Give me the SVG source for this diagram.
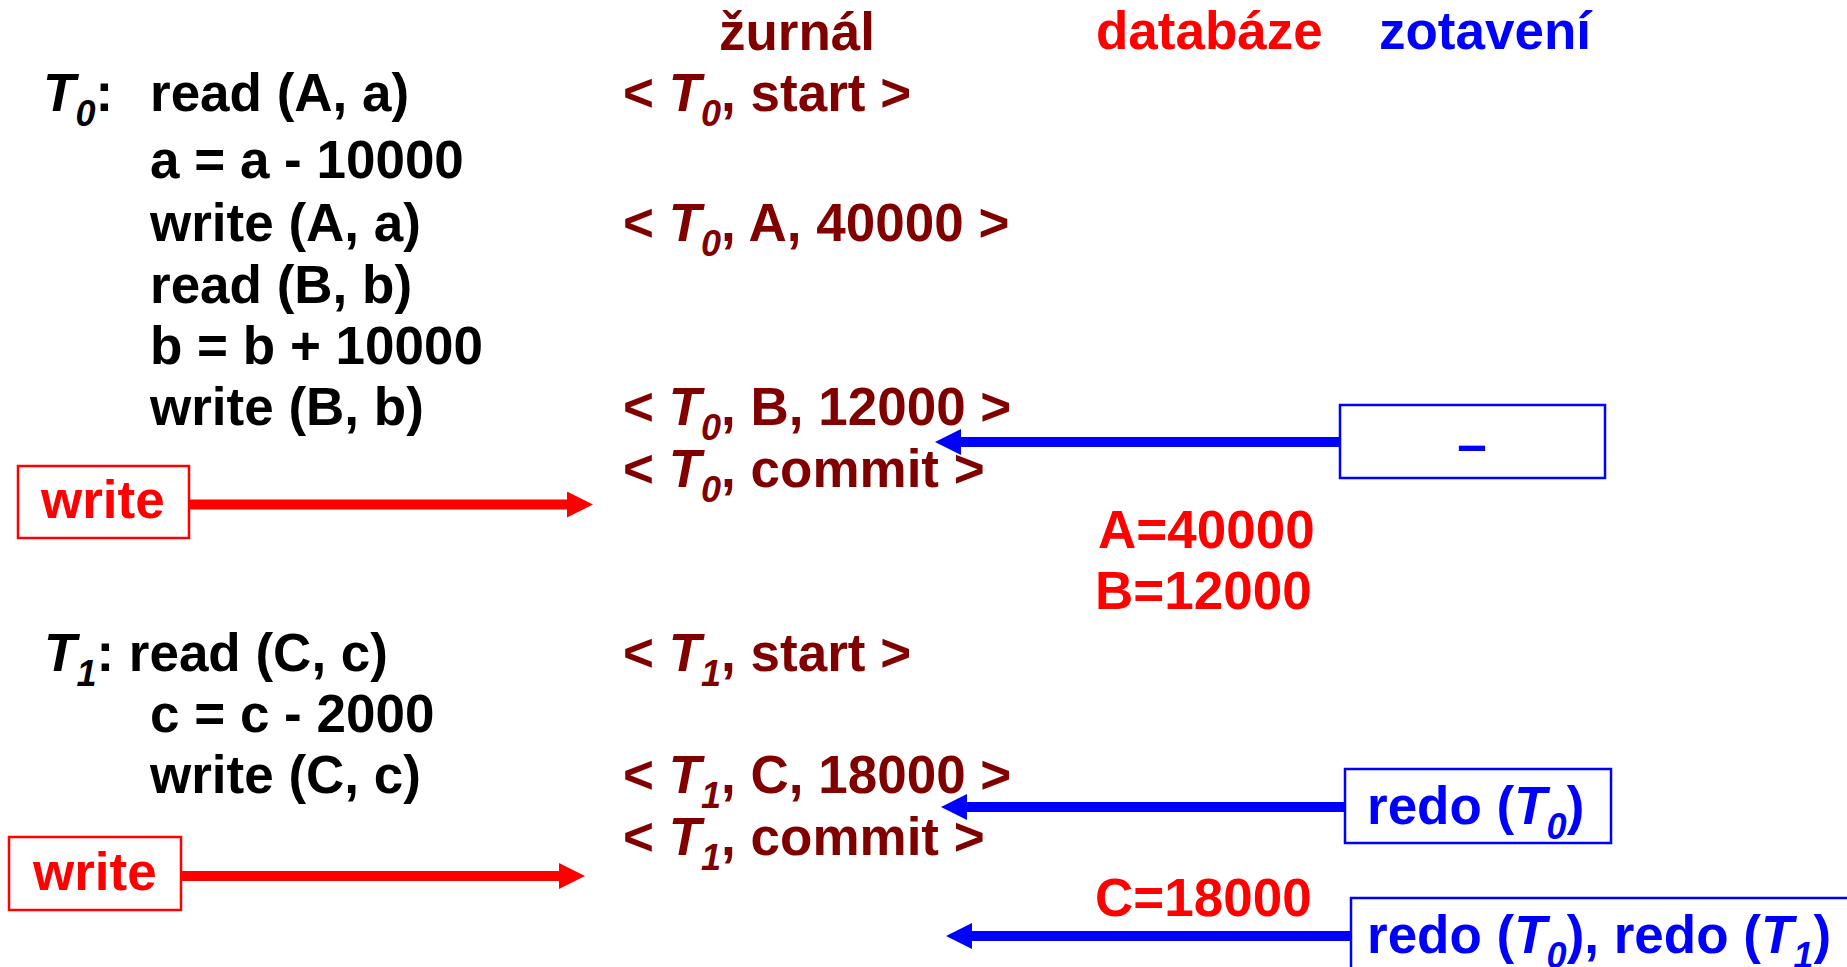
<svg xmlns="http://www.w3.org/2000/svg" width="1847" height="967" viewBox="0 0 1847 967">
<style>
text{font-family:"Liberation Sans",Arial,sans-serif;font-weight:bold;font-size:53px}
.k{fill:#000}
.m{fill:#800000}
.r{fill:#FF0000}
.b{fill:#0000FF}
.i{font-style:italic}
.s{font-style:italic;font-size:36px}
.rb{fill:#fff;stroke:#FF0000;stroke-width:2.5}
.bb{fill:#fff;stroke:#0000FF;stroke-width:2.5}
.rl{stroke:#FF0000;stroke-width:10;fill:none}
.bl{stroke:#0000FF;stroke-width:10;fill:none}
</style>
<defs>
<marker id="ar" viewBox="0 0 26 26" refX="0" refY="13" markerWidth="26" markerHeight="26" markerUnits="userSpaceOnUse" orient="auto"><path d="M0,0 L26,13 L0,26 z" fill="#FF0000"/></marker>
<marker id="ab" viewBox="0 0 26 26" refX="0" refY="13" markerWidth="26" markerHeight="26" markerUnits="userSpaceOnUse" orient="auto"><path d="M0,0 L26,13 L0,26 z" fill="#0000FF"/></marker>
</defs>
<rect width="1847" height="967" fill="#fff"/>
<g id="headers">
<text class="m" x="719" y="50">žurnál</text>
<text class="r" x="1096" y="49">databáze</text>
<text class="b" x="1379" y="49">zotavení</text>
</g>
<g id="t0-program">
<text class="k" x="43" y="111"><tspan class="i">T</tspan><tspan class="s" dy="15">0</tspan><tspan dy="-15">:</tspan></text>
<text class="k" x="150" y="111">read (A, a)</text>
<text class="k" x="150" y="178">a = a - 10000</text>
<text class="k" x="150" y="241">write (A, a)</text>
<text class="k" x="150" y="303">read (B, b)</text>
<text class="k" x="150" y="364">b = b + 10000</text>
<text class="k" x="150" y="425">write (B, b)</text>
</g>
<g id="t0-log">
<text class="m" x="623" y="111">&lt; <tspan class="i">T</tspan><tspan class="s" dy="15">0</tspan><tspan dy="-15">, start &gt;</tspan></text>
<text class="m" x="623" y="241">&lt; <tspan class="i">T</tspan><tspan class="s" dy="15">0</tspan><tspan dy="-15">, A, 40000 &gt;</tspan></text>
<text class="m" x="623" y="425">&lt; <tspan class="i">T</tspan><tspan class="s" dy="15">0</tspan><tspan dy="-15">, B, 12000 &gt;</tspan></text>
<text class="m" x="623" y="487">&lt; <tspan class="i">T</tspan><tspan class="s" dy="15">0</tspan><tspan dy="-15">, commit &gt;</tspan></text>
</g>
<g id="t1-program">
<text class="k" x="44" y="671"><tspan class="i">T</tspan><tspan class="s" dy="15">1</tspan><tspan dy="-15">: read (C, c)</tspan></text>
<text class="k" x="150" y="732">c = c - 2000</text>
<text class="k" x="150" y="793">write (C, c)</text>
</g>
<g id="t1-log">
<text class="m" x="623" y="671">&lt; <tspan class="i">T</tspan><tspan class="s" dy="15">1</tspan><tspan dy="-15">, start &gt;</tspan></text>
<text class="m" x="623" y="793">&lt; <tspan class="i">T</tspan><tspan class="s" dy="15">1</tspan><tspan dy="-15">, C, 18000 &gt;</tspan></text>
<text class="m" x="623" y="855">&lt; <tspan class="i">T</tspan><tspan class="s" dy="15">1</tspan><tspan dy="-15">, commit &gt;</tspan></text>
</g>
<g id="db-values">
<text class="r" x="1098" y="548">A=40000</text>
<text class="r" x="1095" y="609">B=12000</text>
<text class="r" x="1095" y="916">C=18000</text>
</g>
<g id="write1">
<rect class="rb" x="18" y="466" width="171" height="72"/>
<text class="r" x="41" y="518">write</text>
</g>
<g id="write2">
<rect class="rb" x="9" y="837" width="172" height="73"/>
<text class="r" x="33" y="890">write</text>
</g>
<g id="recovery-none">
<rect class="bb" x="1340" y="405" width="265" height="73"/>
<text class="b" x="1472" y="463" text-anchor="middle">–</text>
</g>
<g id="recovery-redo0">
<rect class="bb" x="1345" y="769" width="266" height="74"/>
<text class="b" x="1367" y="824">redo (<tspan class="i">T</tspan><tspan class="s" dy="15">0</tspan><tspan dy="-15">)</tspan></text>
</g>
<g id="recovery-redo01">
<rect class="bb" x="1351" y="898" width="540" height="100"/>
<text class="b" x="1367" y="953">redo (<tspan class="i">T</tspan><tspan class="s" dy="15">0</tspan><tspan dy="-15">), redo (</tspan><tspan class="i">T</tspan><tspan class="s" dy="15">1</tspan><tspan dy="-15">)</tspan></text>
</g>
<g id="connectors">
<line class="rl" x1="189" y1="504.5" x2="567" y2="504.5" marker-end="url(#ar)"/>
<line class="rl" x1="181" y1="876" x2="559" y2="876" marker-end="url(#ar)"/>
<line class="bl" x1="1340" y1="442" x2="961" y2="442" marker-end="url(#ab)"/>
<line class="bl" x1="1345" y1="807" x2="967" y2="807" marker-end="url(#ab)"/>
<line class="bl" x1="1351" y1="936" x2="972" y2="936" marker-end="url(#ab)"/>
</g>
</svg>
